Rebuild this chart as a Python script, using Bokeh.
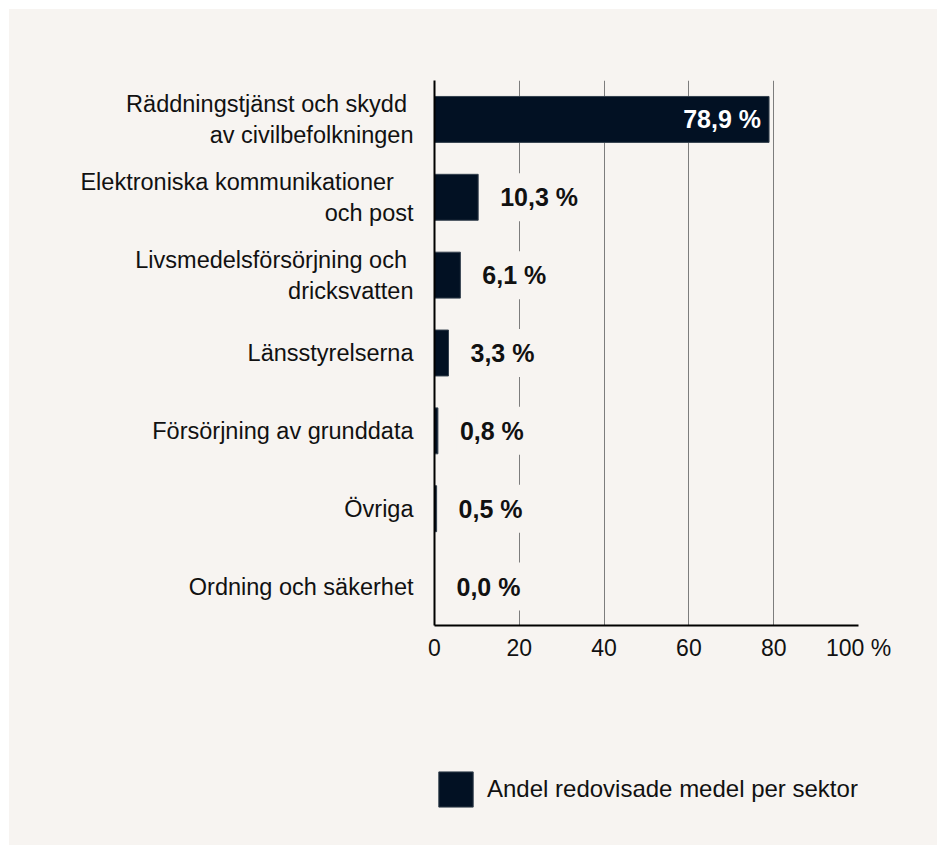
from bokeh.plotting import figure
from bokeh.layouts import column
from bokeh.models import ColumnDataSource, FactorRange, Range1d, FixedTicker, Legend, LegendItem
from bokeh.core.properties import value
from bokeh.embed import file_html
from bokeh.resources import INLINE

# ---- data ----
categories = [
    "Räddningstjänst och skydd \nav civilbefolkningen",
    "Elektroniska kommunikationer   \noch post",
    "Livsmedelsförsörjning och \ndricksvatten",
    "Länsstyrelserna",
    "Försörjning av grunddata",
    "Övriga",
    "Ordning och säkerhet",
]
shares = [78.9, 10.3, 6.1, 3.3, 0.8, 0.5, 0.0]
x_ticks = [0, 20, 40, 60, 80, 100]
legend_label = "Andel redovisade medel per sektor"

BG = "#f7f4f1"
BAR = "#021123"
BAR_EDGE = "#34404e"
TXT = "#111111"
FONT = "Liberation Sans"

labels = [f"{v:.1f}".replace(".", ",") + " %" for v in shares]
inside = [v > 50 for v in shares]

src = ColumnDataSource(dict(cat=categories, val=shares, lab=labels))
src_in = ColumnDataSource(dict(
    cat=[c for c, i in zip(categories, inside) if i],
    val=[v for v, i in zip(shares, inside) if i],
    lab=[l for l, i in zip(labels, inside) if i],
))
src_out = ColumnDataSource(dict(
    cat=[c for c, i in zip(categories, inside) if not i],
    val=[v for v, i in zip(shares, inside) if not i],
    lab=[l for l, i in zip(labels, inside) if not i],
))

p = figure(
    width=928, height=691,
    y_range=FactorRange(factors=list(reversed(categories))),
    x_range=Range1d(0, 100),
    output_backend="svg", toolbar_location=None,
    min_border_left=425, min_border_right=79,
    min_border_top=71, min_border_bottom=75,
)
p.background_fill_color = BG
p.border_fill_color = BG
p.outline_line_color = None

bars = p.hbar(y="cat", left=0, right="val", height=0.59, source=src,
              fill_color=BAR, line_color=BAR_EDGE, line_width=1)

p.text(x="val", y="cat", text="lab", source=src_in,
       text_font=value(FONT), text_font_size="25px", text_font_style="bold",
       text_color="white", text_align="right", text_baseline="middle",
       x_offset=-8)
p.text(x="val", y="cat", text="lab", source=src_out,
       text_font=value(FONT), text_font_size="25px", text_font_style="bold",
       text_color=TXT, text_align="left", text_baseline="middle",
       x_offset=19, background_fill_color=BG,
       padding=dict(left=3, right=3, top=10, bottom=10))

# x axis
p.xaxis.ticker = FixedTicker(ticks=x_ticks)
p.xaxis.major_label_overrides = {100: "100 %"}
p.xaxis.axis_line_width = 2
p.xaxis.axis_line_color = "#000000"
p.xaxis.major_tick_line_color = None
p.xaxis.minor_tick_line_color = None
p.xaxis.major_label_text_font = FONT
p.xaxis.major_label_text_font_size = "23px"
p.xaxis.major_label_text_color = TXT
p.xaxis.major_label_standoff = 3

# y axis
p.yaxis.axis_line_width = 2
p.yaxis.axis_line_color = "#000000"
p.yaxis.major_tick_line_color = None
p.yaxis.minor_tick_line_color = None
p.yaxis.major_label_text_font = FONT
p.yaxis.major_label_text_font_size = "23.5px"
p.yaxis.major_label_text_color = TXT
p.yaxis.major_label_standoff = 15
p.yaxis.major_label_text_line_height = 1.2

# grid
p.xgrid.ticker = FixedTicker(ticks=x_ticks)
p.xgrid.grid_line_color = "#7d7d7d"
p.xgrid.grid_line_width = 1
p.ygrid.grid_line_color = None

# ---- legend strip below the chart ----
q = figure(
    width=928, height=145,
    x_range=Range1d(0, 1), y_range=Range1d(0, 1),
    output_backend="svg", toolbar_location=None,
    x_axis_location=None, y_axis_location=None,
    min_border_left=415, min_border_top=67, min_border_right=0, min_border_bottom=0,
)
q.background_fill_color = BG
q.border_fill_color = BG
q.outline_line_color = None
q.grid.visible = False
# placeholder renderer (zero size, outside the visible range) that only feeds the legend key
key = q.hbar(y=[-10], left=[0], right=[0], height=0,
             fill_color=BAR, line_color=BAR_EDGE, line_width=1)

legend = Legend(
    items=[LegendItem(label=legend_label, renderers=[key])],
    location="top_left", padding=0, margin=0, spacing=0,
    glyph_width=43, glyph_height=44, label_standoff=10,
    label_text_font=FONT, label_text_font_size="24px", label_text_color=TXT,
    background_fill_alpha=0, border_line_color=None,
)
q.add_layout(legend)

layout = column(p, q, spacing=0, margin=(9, 0, 0, 9),
                styles={"background-color": BG})
open("out.html", "w").write(file_html(layout, INLINE))
